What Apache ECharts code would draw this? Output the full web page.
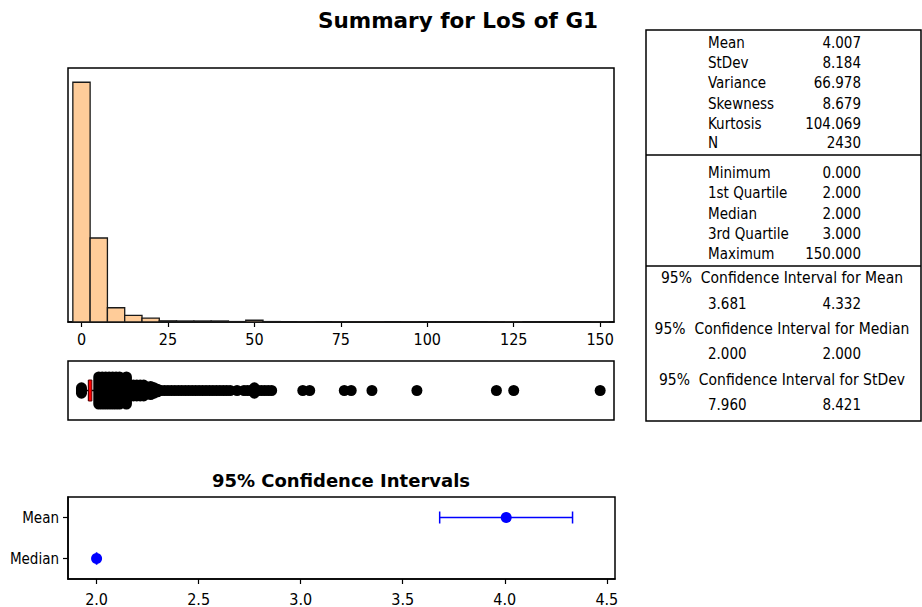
<!DOCTYPE html>
<html><head><meta charset="utf-8">
<script src="https://cdn.jsdelivr.net/npm/echarts@6/dist/echarts.min.js"></script>
<style>html,body{margin:0;padding:0;background:#fff}#c{width:922px;height:607px}</style>
</head><body><div id="c"></div>
<script>
// ---------------- data ----------------
const histBinCenters = [0,5,10,15,20,25,30,35,40,45,50,55,60,65,70,75,80,85,90,95,100,105,110,115,120,125,130,135,140,145,150];
const histCounts     = [1633,572,97,45,27,8,7,7,7,3,12,3,0,2,0,1,1,1,0,1,0,0,0,0,1,1,0,0,0,0,1];
const histBinWidth = 5;
const histTickLabels = [0,25,50,75,100,125,150];

const boxQuartiles = [2, 2, 3];      // Q1, median, Q3
const boxWhiskers  = [1, 4];         // lower / upper whisker ends
const outlierValues = [0,5,6,7,8,9,10,11,12,13,14,15,16,17,18,19,20,21,22,23,24,25,26,27,28,29,30,31,32,33,34,35,36,37,38,39,40,41,42,43,45,47,48,49,50,51,52,53,54,55,64,66,76,78,84,97,120,125,150];
const outlierCounts = [5,90,65,55,32,22,18,14,11,17,7,7,7,7,7,5,6,5,4,2,1,2,1,2,2,1,2,1,1,3,1,1,1,1,1,1,2,1,2,1,1,1,2,3,5,1,1,1,1,1,1,1,1,1,1,1,1,1,1];

const ciCategories = ['Mean', 'Median'];
const ciEstimates  = [4.007, 2.000];
const ciLower      = [3.681, 2.000];
const ciUpper      = [4.332, 2.000];
const ciTickLabels = [2.0, 2.5, 3.0, 3.5, 4.0, 4.5];

const statLabels1 = ['Mean','StDev','Variance','Skewness','Kurtosis','N'];
const statValues1 = ['4.007','8.184','66.978','8.679','104.069','2430'];
const statLabels2 = ['Minimum','1st Quartile','Median','3rd Quartile','Maximum'];
const statValues2 = ['0.000','2.000','2.000','3.000','150.000'];
const ciTableHeaders = ['95%\u00a0\u00a0Confidence Interval for Mean','95%\u00a0\u00a0Confidence Interval for Median','95%\u00a0\u00a0Confidence Interval for StDev'];
const ciTableLower = ['3.681','2.000','7.960'];
const ciTableUpper = ['4.332','2.000','8.421'];

const titleText = 'Summary for LoS of G1';
const ciTitleText = '95% Confidence Intervals';

// ---------------- styling ----------------
const NARROW = "'DejaVu Sans Condensed','Liberation Sans Narrow','Liberation Sans',sans-serif";
const BOLD = "'DejaVu Sans','Liberation Sans',sans-serif";

const chart = echarts.init(document.getElementById('c'), null, {renderer: 'svg'});

const graphics = [];
graphics.push({type:'text', style:{text:titleText, x:458, y:20, align:'center', verticalAlign:'middle', font:"bold 21.5px " + BOLD, fill:'#000'}});
graphics.push({type:'text', style:{text:ciTitleText, x:341, y:480, align:'center', verticalAlign:'middle', font:"bold 18px " + BOLD, fill:'#000'}});
// table frame
graphics.push({type:'rect', shape:{x:646, y:30, width:275, height:391}, style:{fill:'none', stroke:'#000', lineWidth:1.5}});
graphics.push({type:'line', shape:{x1:646, y1:155, x2:921, y2:155}, style:{stroke:'#000', lineWidth:1.5}});
graphics.push({type:'line', shape:{x1:646, y1:266, x2:921, y2:266}, style:{stroke:'#000', lineWidth:1.5}});
const tFont = "15px " + NARROW;
const hFont = "15.5px " + NARROW;
const rows1 = [43,63,83,104,124,143];
statLabels1.forEach((l,i)=>{
  graphics.push({type:'text', style:{text:l, x:708, y:rows1[i], align:'left', verticalAlign:'middle', font:tFont, fill:'#000'}});
  graphics.push({type:'text', style:{text:statValues1[i], x:861, y:rows1[i], align:'right', verticalAlign:'middle', font:tFont, fill:'#000'}});
});
const rows2 = [173,193,214,234,254];
statLabels2.forEach((l,i)=>{
  graphics.push({type:'text', style:{text:l, x:708, y:rows2[i], align:'left', verticalAlign:'middle', font:tFont, fill:'#000'}});
  graphics.push({type:'text', style:{text:statValues2[i], x:861, y:rows2[i], align:'right', verticalAlign:'middle', font:tFont, fill:'#000'}});
});
const hdrY = [278,329,380], valY = [304,354,405];
ciTableHeaders.forEach((h,i)=>{
  graphics.push({type:'text', style:{text:h, x:782, y:hdrY[i], align:'center', verticalAlign:'middle', font:hFont, fill:'#000'}});
  graphics.push({type:'text', style:{text:ciTableLower[i], x:708, y:valY[i], align:'left', verticalAlign:'middle', font:tFont, fill:'#000'}});
  graphics.push({type:'text', style:{text:ciTableUpper[i], x:861, y:valY[i], align:'right', verticalAlign:'middle', font:tFont, fill:'#000'}});
});

const xLabelStyle = {fontFamily: NARROW, fontSize: 16, color: '#000'};
const yLabelStyle = {fontFamily: NARROW, fontSize: 15, color: '#000'};
const frame = {show:true, borderColor:'#000', borderWidth:1.5, backgroundColor:'#fff'};

function dotHeight(count){
  const t = Math.max(0, Math.min(1, (count - 3) / 10));
  return 11 + 27 * t;
}

const option = {
  animation: false,
  backgroundColor: '#fff',
  graphic: graphics,
  grid: [
    Object.assign({left:68, top:68, width:546, height:254}, frame),
    Object.assign({left:68, top:361, width:546, height:59}, frame),
    Object.assign({left:68, top:497, width:547, height:83}, frame)
  ],
  xAxis: [
    {gridIndex:0, type:'value', min:-3.9, max:154,
     axisLine:{show:true, lineStyle:{color:'#000', width:1.5}},
     axisTick:{show:true, customValues:histTickLabels, length:5, lineStyle:{color:'#000', width:1.2}},
     axisLabel:Object.assign({customValues:histTickLabels, margin:9}, xLabelStyle),
     splitLine:{show:false}},
    {gridIndex:1, type:'value', min:-3.9, max:154, show:false},
    {gridIndex:2, type:'value', min:1.86, max:4.54,
     axisLine:{show:true, lineStyle:{color:'#000', width:1.5}},
     axisTick:{show:true, customValues:ciTickLabels, length:5, lineStyle:{color:'#000', width:1.2}},
     axisLabel:Object.assign({customValues:ciTickLabels, margin:12, formatter:v=>Number(v).toFixed(1)}, xLabelStyle),
     splitLine:{show:false}}
  ],
  yAxis: [
    {gridIndex:0, type:'value', min:0, max:1730, show:false},
    {gridIndex:1, type:'value', min:0, max:1, show:false},
    {gridIndex:2, type:'category', data:ciCategories, inverse:true,
     axisLine:{show:true, lineStyle:{color:'#000', width:1.5}},
     axisTick:{show:true, alignWithLabel:true, length:5, lineStyle:{color:'#000', width:1.2}},
     axisLabel:Object.assign({margin:9}, yLabelStyle),
     splitLine:{show:false}}
  ],
  series: [
    {type:'custom', xAxisIndex:0, yAxisIndex:0,
     data: histBinCenters.map((c,i)=>[c, histCounts[i]]),
     encode:{x:0, y:1},
     renderItem:(params, api)=>{
       const c = api.value(0), n = api.value(1);
       const p0 = api.coord([c - histBinWidth/2, n]);
       const p1 = api.coord([c + histBinWidth/2, 0]);
       return {type:'rect', shape:{x:p0[0], y:p0[1], width:p1[0]-p0[0], height:p1[1]-p0[1]},
               style:{fill:'#FFCC99', stroke:'#1a1a1a', lineWidth:1.3}};
     }},
    {type:'custom', xAxisIndex:1, yAxisIndex:1,
     data: outlierValues.map((v,i)=>[v, 0.5, outlierCounts[i]]),
     encode:{x:0, y:1},
     renderItem:(params, api)=>{
       const p = api.coord([api.value(0), api.value(1)]);
       const h = dotHeight(api.value(2));
       return {type:'rect', shape:{x:p[0]-5.5, y:p[1]-h/2, width:11, height:h, r:5.5},
               style:{fill:'#000'}};
     }},
    {type:'custom', xAxisIndex:1, yAxisIndex:1,
     data: [[boxQuartiles[0], boxQuartiles[1], boxQuartiles[2], boxWhiskers[0], boxWhiskers[1], 0.5]],
     renderItem:(params, api)=>{
       const y = api.value(5);
       const q1 = api.coord([api.value(0), y]), md = api.coord([api.value(1), y]), q3 = api.coord([api.value(2), y]);
       const wl = api.coord([api.value(3), y]), wh = api.coord([api.value(4), y]);
       const hh = 10.5;
       return {type:'group', children:[
         {type:'line', shape:{x1:wl[0], y1:q1[1], x2:q1[0], y2:q1[1]}, style:{stroke:'#000', lineWidth:1.5}},
         {type:'line', shape:{x1:q3[0], y1:q3[1], x2:wh[0], y2:wh[1]}, style:{stroke:'#000', lineWidth:1.5}},
         {type:'rect', shape:{x:q1[0], y:q1[1]-hh, width:q3[0]-q1[0], height:2*hh}, style:{fill:'#FF0000', stroke:'#5a0000', lineWidth:1}},
         {type:'line', shape:{x1:md[0], y1:md[1]-hh, x2:md[0], y2:md[1]+hh}, style:{stroke:'#5a0000', lineWidth:1}}
       ]};
     }},
    {type:'custom', xAxisIndex:2, yAxisIndex:2,
     data: ciCategories.map((c,i)=>[ciEstimates[i], i, ciLower[i], ciUpper[i]]),
     encode:{x:0, y:1},
     renderItem:(params, api)=>{
       const i = api.value(1);
       const lo = api.coord([api.value(2), i]), hi = api.coord([api.value(3), i]);
       const cap = 6;
       const st = {stroke:'#0000FF', lineWidth:1.5};
       return {type:'group', children:[
         {type:'line', shape:{x1:lo[0], y1:lo[1], x2:hi[0], y2:hi[1]}, style:st},
         {type:'line', shape:{x1:lo[0], y1:lo[1]-cap, x2:lo[0], y2:lo[1]+cap}, style:st},
         {type:'line', shape:{x1:hi[0], y1:hi[1]-cap, x2:hi[0], y2:hi[1]+cap}, style:st}
       ]};
     }},
    {type:'scatter', xAxisIndex:2, yAxisIndex:2, symbol:'circle', symbolSize:11,
     itemStyle:{color:'#0000FF', opacity:1},
     data: ciCategories.map((c,i)=>[ciEstimates[i], i])}
  ]
};
chart.setOption(option);
</script>
</body></html>
